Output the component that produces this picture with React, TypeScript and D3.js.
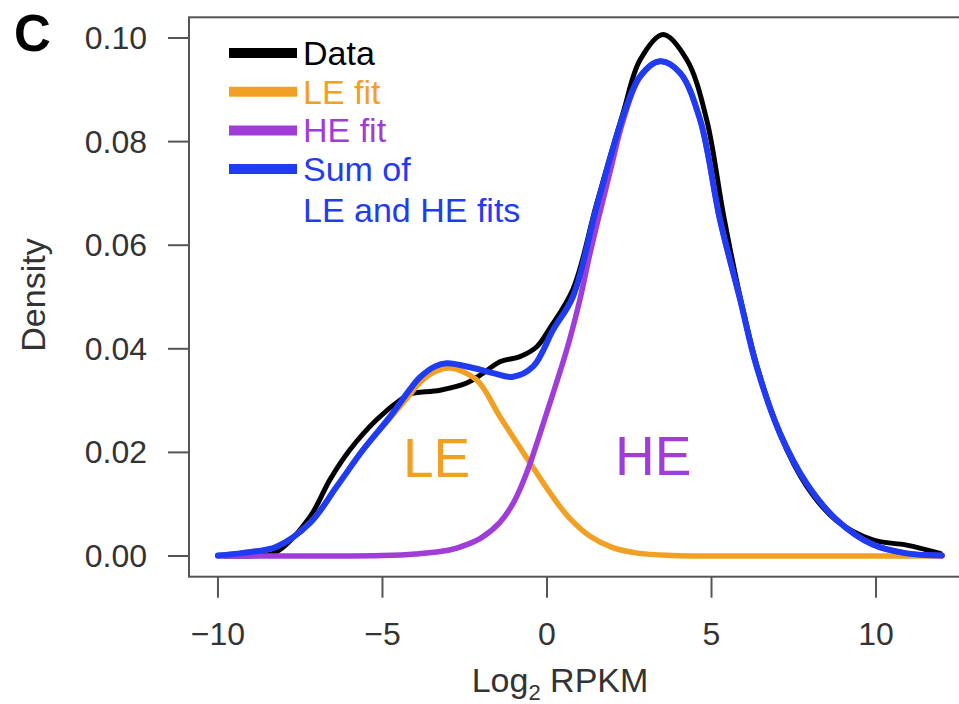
import React from "react";
import * as d3 from "d3";

// ---- data ----
const dataX = [-9.8, -8.8, -8.22, -7.2, -6.6, -5.99, -5.18, -4.38, -4.16, -3.25, -2.44, -1.94, -1.43, -0.82, -0.31, 0.09, 0.79, 1.51, 2.31, 2.83, 3.53, 4.25, 4.85, 5.36, 5.87, 6.37, 7.08, 7.89, 8.8, 9.9, 10.93, 11.95];
const dataY = [0, 0.0001, 0.0008, 0.0076, 0.0147, 0.0205, 0.0263, 0.0305, 0.0313, 0.032, 0.0334, 0.0353, 0.0375, 0.0385, 0.0404, 0.044, 0.0515, 0.068, 0.0855, 0.0958, 0.1007, 0.0958, 0.0843, 0.066, 0.05, 0.037, 0.0235, 0.0135, 0.0068, 0.0031, 0.0021, 0.0005];

const leX = [-10, -9.24, -8.22, -7.2, -6.39, -5.59, -4.77, -4.16, -3.86, -3.4, -2.95, -2.14, -1.43, -0.52, 0.19, 0.7, 1.31, 2.0, 2.8, 3.8, 5, 8, 12];
const leY = [0.0001, 0.0006, 0.0018, 0.0064, 0.0134, 0.0205, 0.0266, 0.0312, 0.0335, 0.0356, 0.0363, 0.034, 0.0269, 0.018, 0.0113, 0.0072, 0.0038, 0.0016, 0.0005, 0.0001, 0, 0, 0];

const heX = [-10, -7, -5, -4, -3, -2.44, -2, -1.43, -1, -0.62, -0.01, 0.6, 1.0, 1.31, 1.91, 2.31, 2.83, 3.43, 4.04, 4.65, 5.26, 5.87, 6.37, 7.08, 7.89, 8.8, 9.9, 10.93, 12];
const heY = [0, 0, 0.0001, 0.0004, 0.0011, 0.0022, 0.0035, 0.0065, 0.0105, 0.016, 0.0276, 0.0398, 0.0495, 0.0585, 0.074, 0.084, 0.0925, 0.0955, 0.0933, 0.0843, 0.0647, 0.0495, 0.0366, 0.0237, 0.014, 0.007, 0.0022, 0.0005, 0.0001];

const sumX = [-10, -9.24, -8.22, -7.2, -6.39, -5.59, -4.77, -4.16, -3.86, -3.4, -3.05, -2.24, -1.64, -1.03, -0.42, 0.19, 0.79, 1.51, 2.31, 2.83, 3.43, 4.04, 4.65, 5.26, 5.87, 6.37, 7.08, 7.89, 8.8, 9.9, 10.93, 12];
const sumY = [0.0001, 0.0006, 0.0018, 0.0064, 0.0134, 0.0205, 0.0269, 0.0322, 0.0345, 0.0366, 0.0372, 0.0363, 0.0353, 0.0346, 0.0366, 0.0437, 0.0501, 0.0675, 0.0849, 0.0926, 0.0955, 0.0933, 0.0843, 0.0649, 0.0495, 0.0366, 0.0237, 0.014, 0.007, 0.0022, 0.0005, 0.0001];

const xTicks = [-10, -5, 0, 5, 10];
const xTickLabels = ["\u221210", "\u22125", "0", "5", "10"];
const yTicks = [0, 0.02, 0.04, 0.06, 0.08, 0.1];
const yTickLabels = ["0.00", "0.02", "0.04", "0.06", "0.08", "0.10"];

const legendLabels = ["Data", "LE fit", "HE fit", "Sum of"];
const legendExtra = "LE and HE fits";

const COLORS = { data: "#000000", le: "#F2A023", he: "#A03CD8", sum: "#1F3CF2" };
const AXIS = "#555555";
const TEXT = "#333333";
const FONT = "'Liberation Sans', Arial, Helvetica, sans-serif";

export default function App() {
  const W = 959, H = 704;
  const x = d3.scaleLinear().domain([-10.88, 12.88]).range([189, 970.8]);
  const y = d3.scaleLinear().domain([-0.004, 0.104]).range([576.7, 17.3]);

  const line = d3
    .line<[number, number]>()
    .x((d) => x(d[0]))
    .y((d) => y(d[1]))
    .curve(d3.curveCatmullRom.alpha(0.5));

  const zip = (a: number[], b: number[]) => a.map((v, i) => [v, b[i]] as [number, number]);

  const left = x(-10.88), right = x(12.88), top = y(0.104), bottom = y(-0.004);

  const legendColors = [COLORS.data, COLORS.le, COLORS.he, COLORS.sum];
  const legendY0 = 53, legendStep = 38.7;

  return (
    <svg width={W} height={H} style={{ position: "absolute", left: 0, top: 0, background: "#fff" }} fontFamily={FONT}>
      <rect x={0} y={0} width={W} height={H} fill="#fff" />
      {/* curves */}
      <path d={line(zip(dataX, dataY)) || ""} fill="none" stroke={COLORS.data} strokeWidth={5} strokeLinejoin="round" strokeLinecap="round" />
      <path d={line(zip(leX, leY)) || ""} fill="none" stroke={COLORS.le} strokeWidth={5.5} strokeLinejoin="round" strokeLinecap="round" />
      <path d={line(zip(heX, heY)) || ""} fill="none" stroke={COLORS.he} strokeWidth={5.5} strokeLinejoin="round" strokeLinecap="round" />
      <path d={line(zip(sumX, sumY)) || ""} fill="none" stroke={COLORS.sum} strokeWidth={6} strokeLinejoin="round" strokeLinecap="round" />

      {/* box */}
      <rect x={left} y={top} width={right - left} height={bottom - top} fill="none" stroke={AXIS} strokeWidth={2} />

      {/* y axis */}
      {yTicks.map((t, i) => (
        <g key={"y" + i}>
          <line x1={left - 21} x2={left} y1={y(t)} y2={y(t)} stroke={AXIS} strokeWidth={2} />
          <text x={147} y={y(t) + 11} textAnchor="end" fontSize={32} fill={TEXT}>
            {yTickLabels[i]}
          </text>
        </g>
      ))}
      {/* x axis */}
      {xTicks.map((t, i) => (
        <g key={"x" + i}>
          <line x1={x(t)} x2={x(t)} y1={bottom} y2={bottom + 21} stroke={AXIS} strokeWidth={2} />
          <text x={x(t)} y={645} textAnchor="middle" fontSize={32} fill={TEXT}>
            {xTickLabels[i]}
          </text>
        </g>
      ))}

      {/* axis titles */}
      <text x={560} y={692} textAnchor="middle" fontSize={34} fill={TEXT}>
        Log<tspan fontSize={22} dy={8}>2</tspan>
        <tspan dy={-8}> RPKM</tspan>
      </text>
      <text transform="translate(45,295) rotate(-90)" textAnchor="middle" fontSize={34} fill={TEXT}>
        Density
      </text>

      {/* panel letter */}
      <text x={14} y={51} fontSize={51} fontWeight="bold" fill="#000">C</text>

      {/* legend */}
      {legendLabels.map((lab, i) => (
        <g key={"l" + i}>
          <line x1={229} x2={297} y1={legendY0 + i * legendStep} y2={legendY0 + i * legendStep} stroke={legendColors[i]} strokeWidth={10} />
          <text x={303} y={legendY0 + i * legendStep + 12} fontSize={34} fill={i === 0 ? "#000" : legendColors[i]}>
            {lab}
          </text>
        </g>
      ))}
      <text x={303} y={legendY0 + 4 * legendStep + 14} fontSize={34} fill={COLORS.sum}>
        {legendExtra}
      </text>

      {/* region labels */}
      <text x={403} y={477} fontSize={55} fill={COLORS.le}>LE</text>
      <text x={615} y={475} fontSize={55} fill={COLORS.he}>HE</text>
    </svg>
  );
}
